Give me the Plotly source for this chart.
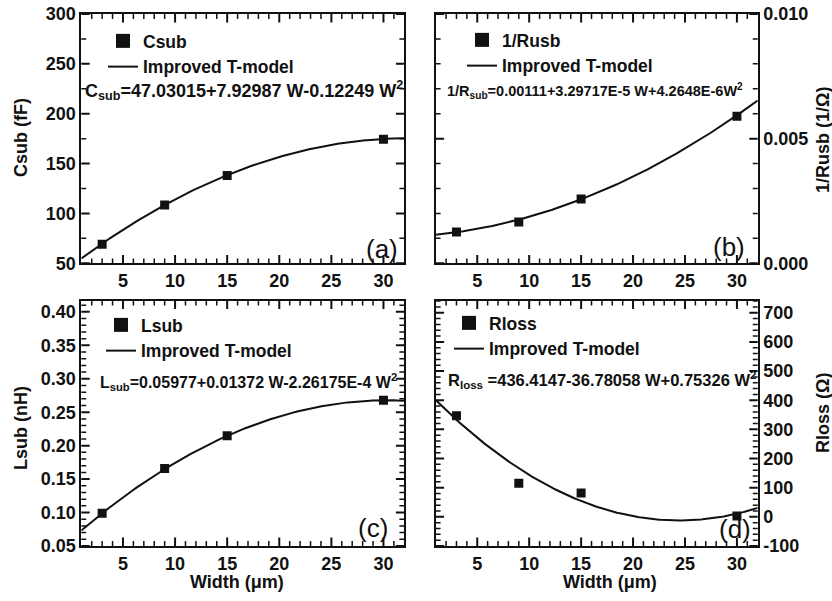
import numpy as np
import plotly.graph_objects as go

# ---------------- data ----------------
widths = [3, 9, 15, 30]
csub = [69, 108.5, 138, 174.5]
inv_rsub = [0.00126, 0.00166, 0.00258, 0.0059]
lsub = [0.099, 0.166, 0.215, 0.268]
rloss = [347, 115, 82, 3]

# fitted quadratic coefficients printed on the chart (c0, c1, c2)
coef_csub = [47.03015, 7.92987, -0.12249]
coef_invr = [0.00111, 3.29717e-5, 4.2648e-6]
coef_lsub = [0.05977, 0.01372, -2.26175e-4]
coef_rloss = [436.4147, -36.78058, 0.75326]

# ---------------- axes / ticks ----------------
x_range = [1, 32]
x_ticks = [5, 10, 15, 20, 25, 30]
x_minor = [v for v in range(2, 32) if v % 5]

csub_range = [50, 300]
csub_ticks = [50, 100, 150, 200, 250, 300]
csub_minor = [75, 125, 175, 225, 275]

invr_range = [0, 0.010]
invr_ticks = [0.0, 0.005, 0.010]
invr_labels = ["0.000", "0.005", "0.010"]
invr_minor = [0.001, 0.002, 0.003, 0.004, 0.006, 0.007, 0.008, 0.009]

lsub_range = [0.05, 0.417]
lsub_ticks = [0.05, 0.10, 0.15, 0.20, 0.25, 0.30, 0.35, 0.40]
lsub_labels = ["0.05", "0.10", "0.15", "0.20", "0.25", "0.30", "0.35", "0.40"]
lsub_minor = [round(0.05 + 0.01 * i, 2) for i in range(1, 37) if i % 5]

rloss_range = [-100, 742]
rloss_ticks = [-100, 0, 100, 200, 300, 400, 500, 600, 700]
rloss_labels = ["-100", "0", "100", "200", "300", "400", "500", "600", "700"]
rloss_minor = [v for v in range(-80, 741, 20) if v % 100]

W = 832
H = 601
FONT = "Arial, Liberation Sans, sans-serif"
INK = "#111111"
MAJ, MIN = 6, 3.5  # inward tick lengths in pixels

def px(x):
    return x / W

def py(y):
    return 1 - y / H

LEFT = (81.3, 404.3)
RIGHT = (435.7, 757.7)
TOP = (14, 263.3)
BOTTOM = (300.5, 546)

wfit = np.linspace(x_range[0], x_range[1], 200)

def poly(c):
    return c[0] + c[1] * wfit + c[2] * wfit ** 2

fig = go.Figure()

panels = [
    dict(name="Csub", y=csub, coef=coef_csub, xa="x", ya="y", leg="legend",
         yr=csub_range, yt=csub_ticks, ym=csub_minor),
    dict(name="1/Rusb", y=inv_rsub, coef=coef_invr, xa="x2", ya="y2", leg="legend2",
         yr=invr_range, yt=invr_ticks, ym=invr_minor),
    dict(name="Lsub", y=lsub, coef=coef_lsub, xa="x3", ya="y3", leg="legend3",
         yr=lsub_range, yt=lsub_ticks, ym=lsub_minor),
    dict(name="Rloss", y=rloss, coef=coef_rloss, xa="x4", ya="y4", leg="legend4",
         yr=rloss_range, yt=rloss_ticks, ym=rloss_minor),
]

def tick_marks(p, xvals, yvals, ln, width):
    # tick marks drawn as line-shaped markers centred on the frame; the outer half is
    # clipped by the plot area, leaving an inward tick of length ln on all four sides
    x0, x1 = x_range
    y0, y1 = p["yr"]
    out = []
    xs = list(xvals) * 2
    ys = [y0] * len(xvals) + [y1] * len(xvals)
    out.append(go.Scatter(x=xs, y=ys, mode="markers", showlegend=False, hoverinfo="skip",
                          marker=dict(symbol="line-ns", size=2 * ln, color=INK,
                                      line=dict(color=INK, width=width)),
                          xaxis=p["xa"], yaxis=p["ya"]))
    xs = [x0] * len(yvals) + [x1] * len(yvals)
    ys = list(yvals) * 2
    out.append(go.Scatter(x=xs, y=ys, mode="markers", showlegend=False, hoverinfo="skip",
                          marker=dict(symbol="line-ew", size=2 * ln, color=INK,
                                      line=dict(color=INK, width=width)),
                          xaxis=p["xa"], yaxis=p["ya"]))
    return out

for p in panels:
    # legend-only marker entry
    fig.add_trace(go.Scatter(x=[None], y=[None], mode="markers", name=p["name"],
                             marker=dict(symbol="square", size=14, color=INK),
                             xaxis=p["xa"], yaxis=p["ya"], legend=p["leg"]))
    fig.add_trace(go.Scatter(x=wfit, y=poly(p["coef"]), mode="lines", name="Improved T-model",
                             line=dict(color=INK, width=2),
                             xaxis=p["xa"], yaxis=p["ya"], legend=p["leg"]))
    fig.add_trace(go.Scatter(x=widths, y=p["y"], mode="markers", showlegend=False,
                             marker=dict(symbol="square", size=9, color=INK),
                             xaxis=p["xa"], yaxis=p["ya"]))
    for t in tick_marks(p, x_ticks, p["yt"], MAJ, 2):
        fig.add_trace(t)
    for t in tick_marks(p, x_minor, p["ym"], MIN, 1.5):
        fig.add_trace(t)

xl = [px(LEFT[0]), px(LEFT[1])]
xr = [px(RIGHT[0]), px(RIGHT[1])]
yt = [py(TOP[1]), py(TOP[0])]
yb = [py(BOTTOM[1]), py(BOTTOM[0])]

tickfont = dict(family=FONT, size=18, color=INK, weight="bold")

def common():
    return dict(ticks="", showline=True, linewidth=2, linecolor=INK, mirror=True,
                showgrid=False, zeroline=False, tickfont=tickfont, automargin=False)

def xaxis(domain, anchor):
    d = common()
    d.update(domain=domain, anchor=anchor, range=x_range, tickmode="array",
             tickvals=x_ticks, ticktext=[str(v) for v in x_ticks])
    return d

def yaxis(domain, anchor, rng, vals, labels, side="left"):
    d = common()
    d.update(domain=domain, anchor=anchor, range=rng, side=side, tickmode="array",
             tickvals=vals, ticktext=labels)
    return d

fig.update_layout(
    template="none",
    width=W, height=H, margin=dict(l=0, r=0, t=0, b=0, pad=0, autoexpand=False),
    paper_bgcolor="white", plot_bgcolor="white",
    font=dict(family=FONT, color=INK),
    xaxis=xaxis(xl, "y"),
    xaxis2=xaxis(xr, "y2"),
    xaxis3=xaxis(xl, "y3"),
    xaxis4=xaxis(xr, "y4"),
    yaxis=yaxis(yt, "x", csub_range, csub_ticks, [str(v) for v in csub_ticks]),
    yaxis2=yaxis(yt, "x2", invr_range, invr_ticks, invr_labels, side="right"),
    yaxis3=yaxis(yb, "x3", lsub_range, lsub_ticks, lsub_labels),
    yaxis4=yaxis(yb, "x4", rloss_range, rloss_ticks, rloss_labels, side="right"),
    showlegend=True,
)

legfont = dict(family=FONT, size=17.5, color=INK, weight="bold")
for key, lx, ly in [("legend", 103, 23), ("legend2", 462, 22), ("legend3", 101, 307), ("legend4", 449, 305)]:
    fig.update_layout({key: dict(x=px(lx), y=py(ly), xanchor="left", yanchor="top",
                                 bgcolor="rgba(0,0,0,0)", font=legfont, itemwidth=30,
                                 tracegroupgap=0, borderwidth=0)})

ann = []
def text(x, y, s, size, bold=True, angle=0, xanchor="left"):
    ann.append(dict(x=px(x), y=py(y), xref="paper", yref="paper", text=s, showarrow=False,
                    xanchor=xanchor, yanchor="middle", textangle=angle,
                    font=dict(family=FONT, size=size, color=INK,
                              weight="bold" if bold else "normal")))

text(83, 91, "C<sub>sub</sub>=47.03015+7.92987 W-0.12249 W<sup>2</sup>", 18)
text(445, 91, "1/R<sub>sub</sub>=0.00111+3.29717E-5 W+4.2648E-6W<sup>2</sup>", 14.5)
text(98, 382, "L<sub>sub</sub>=0.05977+0.01372 W-2.26175E-4 W<sup>2</sup>", 16)
text(446, 380, "R<sub>loss</sub> =436.4147-36.78058 W+0.75326 W<sup>2</sup>", 16.5)

text(382, 249, "(a)", 26, bold=False, xanchor="center")
text(729, 247, "(b)", 26, bold=False, xanchor="center")
text(373, 528, "(c)", 26, bold=False, xanchor="center")
text(735, 529, "(d)", 26, bold=False, xanchor="center")

text(21, 138, "Csub (fF)", 18, angle=-90, xanchor="center")
text(823, 140, "1/Rusb (1/Ω)", 18, angle=-90, xanchor="center")
text(21, 428, "Lsub (nH)", 18, angle=-90, xanchor="center")
text(823, 413, "Rloss (Ω)", 18, angle=-90, xanchor="center")
text(237, 582, "Width (μm)", 18, xanchor="center")
text(610, 582, "Width (μm)", 18, xanchor="center")

fig.update_layout(annotations=ann)

fig.write_html("out.html", config={"displayModeBar": False},
               post_script="document.body.style.margin='0px';")
